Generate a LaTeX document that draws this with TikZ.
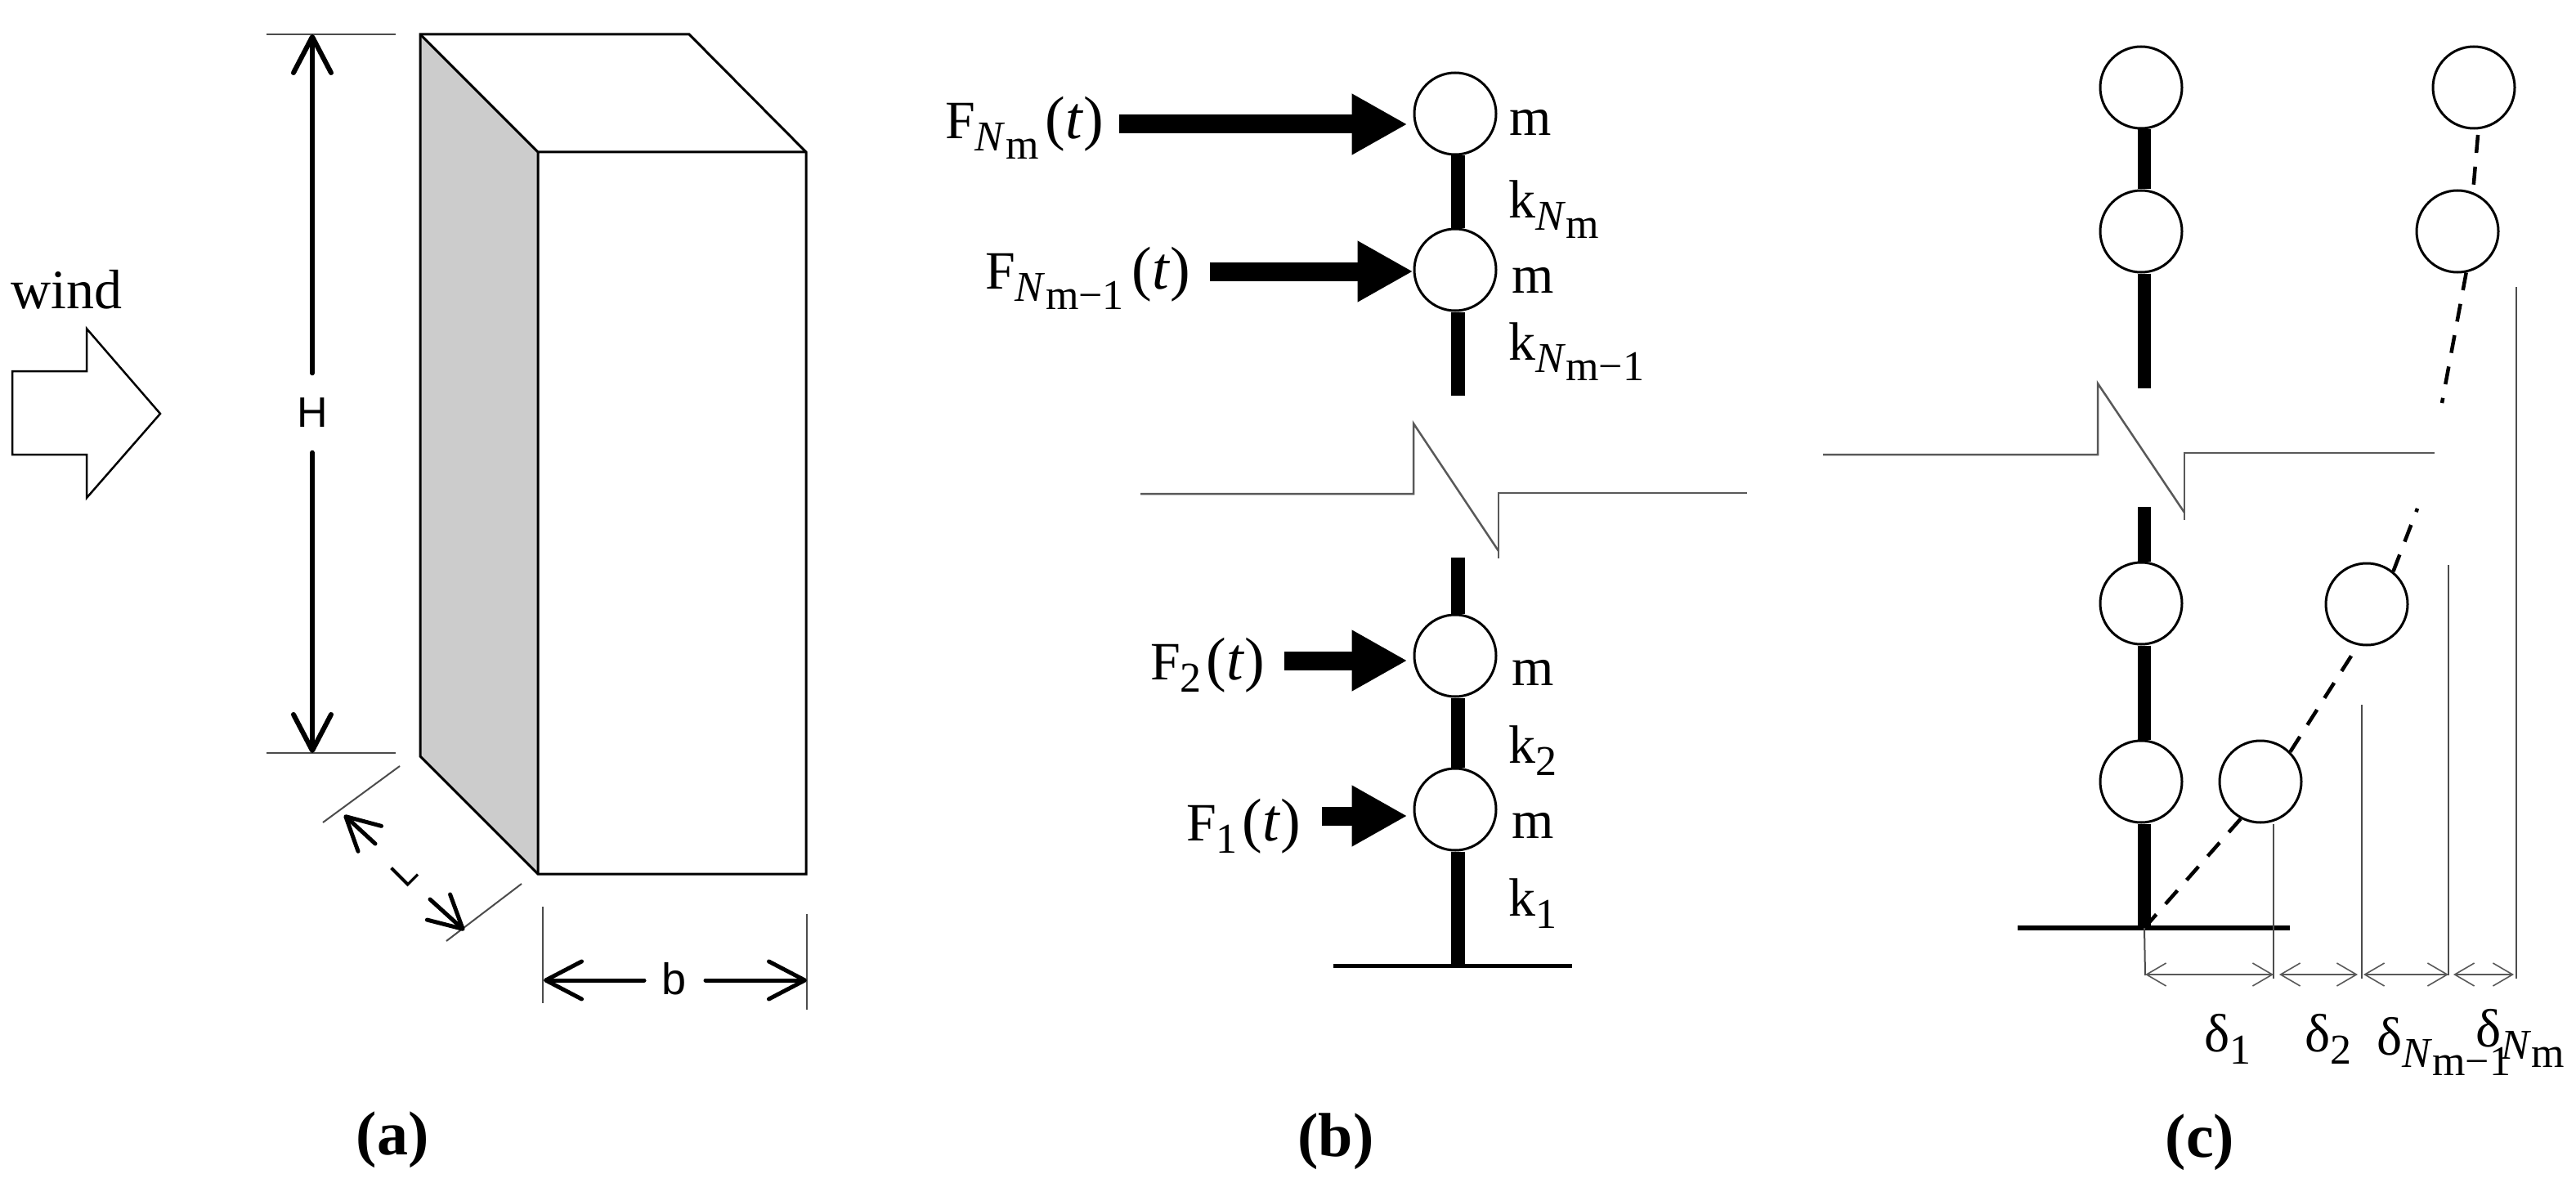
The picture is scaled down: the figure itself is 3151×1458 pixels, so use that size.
\documentclass[tikz,border=0pt]{standalone}
\usepackage{fontspec}
\setmainfont{Liberation Serif}
\setsansfont{Liberation Sans}
\usetikzlibrary{arrows.meta,calc}
\newcommand{\sz}[1]{\fontsize{#1}{#1}\selectfont}
\newcommand{\Nm}{\raisebox{-15pt}{\sz{52}\textit{N}\raisebox{-10pt}{m}}}
\newcommand{\Nmm}{\raisebox{-15pt}{\sz{52}\textit{N}\raisebox{-10pt}{m−1}}}
\newcommand{\dg}[1]{\raisebox{-15pt}{\sz{52}#1}}
\newcommand{\ofT}{{\sz{74}(\textit{t})}}
\tikzset{
  x=1pt,y=-1pt,
  mass/.style={circle,draw=black,fill=white,line width=3pt,minimum size=100pt,inner sep=0pt},
  stem/.style={line width=17pt,black},
  base/.style={line width=5pt,black},
  force/.style={line width=23pt,black,-{Triangle[length=68pt,width=70pt]}},
  lab/.style={anchor=base west,inner sep=0pt,font=\sz{66}},
  sans/.style={inner sep=0pt,font=\sffamily\sz{52}},
  bigdim/.style={line width=6pt,black,line cap=round,-{Straight Barb[length=44pt,width=46pt,round]}},
  thinline/.style={line width=2pt,black!70},
  zig/.style={line width=2.5pt,black!65,line join=miter},
  deflect/.style={line width=4.5pt,black,dash pattern=on 22pt off 17pt},
  gap/.style={line width=2pt,black!65,{Straight Barb[length=24pt,width=28pt,line width=1.6pt]}-{Straight Barb[length=24pt,width=28pt,line width=1.6pt]}},
  panel/.style={inner sep=0pt,font=\bfseries\sz{76}},
}
\begin{document}
\begin{tikzpicture}
\useasboundingbox (0,0) rectangle (3151,1458);
% --- panel (a)
\fill[black!20] (514,42) -- (658,186) -- (658,1069) -- (514,925) -- cycle;
\draw[line width=3pt,line join=miter] (514,42) -- (843,42) -- (986,186) -- (986,1069) -- (658,1069) -- (514,925) -- cycle;
\draw[line width=3pt] (514,42) -- (658,186) -- (986,186) (658,186) -- (658,1069);
\node[inner sep=0pt,font=\sz{68}] (wind) at (81,354) {wind};
\draw[line width=2.5pt,line join=miter] (15,454) -- (106,454) -- (106,402) -- (196,506) -- (106,609) -- (106,556) -- (15,556) -- cycle;
\coordinate (Ht) at (382,42); \coordinate (Hb) at (382,921);
\draw[thinline] (326,42) -- (484,42);
\draw[thinline] (326,921) -- (484,921);
\node[sans,minimum height=97pt] (H) at (382,505) {H};
\draw[bigdim] (H.north) -- (Ht);
\draw[bigdim] (H.south) -- (Hb);
\draw[thinline] (395,1006) -- (489,937);
\draw[thinline] (546,1151) -- (638,1081);
\coordinate (La) at (421,997); \coordinate (Lb) at (568,1138);
\node[sans,rotate=45,font=\sffamily\sz{44}] (L) at (494,1068) {L};
\coordinate (La2) at (459,1032); \coordinate (Lb2) at (526,1100);
\draw[bigdim,line width=5pt,-{Straight Barb[length=40pt,width=42pt,round]}] (La2) -- (La);
\draw[bigdim,line width=5pt,-{Straight Barb[length=40pt,width=42pt,round]}] (Lb2) -- (Lb);
\draw[thinline] (664,1109) -- (664,1227);
\draw[thinline] (987,1118) -- (987,1235);
\coordinate (bl) at (665,1199); \coordinate (br) at (987,1199);
\node[sans,font=\sffamily\sz{54}] (b) at (825,1197) {b};
\coordinate (bla) at (788,1199); \coordinate (bra) at (863,1199);
\draw[bigdim,line width=5pt,-{Straight Barb[length=44pt,width=46pt,round]}] (bla) -- (bl);
\draw[bigdim,line width=5pt,-{Straight Barb[length=44pt,width=46pt,round]}] (bra) -- (br);
\node[panel] (pa) at (480,1394) {(a)};
% --- panel (b)
\node[mass] (m1) at (1780,139) {};
\node[mass] (m2) at (1780,330) {};
\node[mass] (m3) at (1780,802) {};
\node[mass] (m4) at (1780,990) {};
\coordinate (btop) at (1783,484); \coordinate (blow) at (1783,682); \coordinate (bb) at (1783,1181);
\draw[stem] ([xshift=3pt]m1.south) -- ([xshift=3pt]m2.north);
\draw[stem] ([xshift=3pt]m2.south) -- (btop);
\draw[stem] (blow) -- ([xshift=3pt]m3.north);
\draw[stem] ([xshift=3pt]m3.south) -- ([xshift=3pt]m4.north);
\draw[stem] ([xshift=3pt]m4.south) -- (bb);
\draw[base] (1631,1181) -- (1923,1181);
\node[lab] (FN) at (1156,170) {F\Nm\kern8pt\ofT};
\node[lab] (FNm) at (1205,353) {F\Nmm\kern10pt\ofT};
\node[lab] (F2) at (1407,831) {F\dg{2}\kern6pt\ofT};
\node[lab] (F1) at (1451,1028) {F\dg{1}\kern6pt\ofT};
\coordinate (t1) at (1369,152); \coordinate (t2) at (1480,332);
\coordinate (t3) at (1571,808); \coordinate (t4) at (1617,998);
\draw[force,shorten >=7pt] (t1) -- (t1 -| m1.west);
\draw[force,shorten >=0pt] (t2) -- (t2 -| m2.west);
\draw[force,shorten >=7pt] (t3) -- (t3 -| m3.west);
\draw[force,shorten >=7pt] (t4) -- (t4 -| m4.west);
\node[lab] (lm1) at (1846,166) {m};
\node[lab] (lm2) at (1849,358) {m};
\node[lab] (lm3) at (1849,838) {m};
\node[lab] (lm4) at (1849,1025) {m};
\node[lab] (k4) at (1845,266) {k\Nm};
\node[lab] (k3) at (1845,440) {k\Nmm};
\node[lab] (k2) at (1845,933) {k\dg{2}};
\node[lab] (k1) at (1845,1120) {k\dg{1}};
\draw[zig] (1395,604) -- (1729,604) -- (1729,518) -- (1833,674);
\draw[zig] (1833,683) -- (1833,603) -- (2137,603);
\node[panel] (pb) at (1634,1396) {(b)};
% --- panel (c)
\node[mass] (c1) at (2619,107) {};
\node[mass] (c2) at (2619,283) {};
\node[mass] (c3) at (2619,738) {};
\node[mass] (c4) at (2619,956) {};
\node[mass] (r1) at (3026,107) {};
\node[mass] (r2) at (3006,283) {};
\node[mass] (r3) at (2895,739) {};
\node[mass] (r4) at (2765,956) {};
\coordinate (ctop) at (2623,475); \coordinate (clow) at (2623,620); \coordinate (cb) at (2623,1135);
\draw[stem,line width=16pt] ([xshift=4pt]c1.south) -- ([xshift=4pt]c2.north);
\draw[stem,line width=16pt] ([xshift=4pt]c2.south) -- (ctop);
\draw[stem,line width=16pt] (clow) -- ([xshift=4pt]c3.north);
\draw[stem,line width=16pt] ([xshift=4pt]c3.south) -- ([xshift=4pt]c4.north);
\draw[stem,line width=16pt] ([xshift=4pt]c4.south) -- (cb);
\draw[base,line width=5.5pt] (2468,1135) -- (2801,1135);
\coordinate (u1) at (3031,165); \coordinate (u2) at (2987,493); \coordinate (u3) at (2957,622);
\draw[deflect] (u1) -- (3025,235);
\draw[deflect] (r2.-78) -- (u2);
\draw[deflect] (r3.51) -- (u3);
\draw[deflect] (r4.45) -- (r3.-102);
\draw[deflect] (r4.-118) -- (cb);
\draw[zig] (2230,556) -- (2566,556) -- (2566,469) -- (2672,627);
\draw[zig] (2672,636) -- (2672,554) -- (2978,554);
\coordinate (e0) at (2624,1193); \coordinate (e1) at (2781,1197);
\coordinate (e2) at (2889,1197); \coordinate (e3) at (2995,1193); \coordinate (e4) at (3078,1197);
\coordinate (d0) at (2624,1192); \coordinate (d1a) at (2781,1192);
\coordinate (d1) at (2788,1192); \coordinate (d2a) at (2884,1192);
\coordinate (d2) at (2891,1192); \coordinate (d3a) at (2995,1192);
\coordinate (d3) at (3001,1192); \coordinate (d4a) at (3075,1192);
\draw[thinline] (cb) -- (e0);
\draw[thinline] (r4.south -| e1) -- (e1);
\draw[thinline] (2889,862) -- (e2);
\draw[thinline] (2995,691) -- (e3);
\draw[thinline] (3078,351) -- (e4);
\draw[gap] (d0) -- (d1a);
\draw[gap] (d1) -- (d2a);
\draw[gap] (d2) -- (d3a);
\draw[gap] (d3) -- (d4a);
\node[lab] (s1) at (2696,1286) {δ\dg{1}};
\node[lab] (s2) at (2819,1286) {δ\dg{2}};
\node[lab] (s3) at (2907,1290) {δ\Nmm};
\node[lab] (s4) at (3028,1280) {δ\Nm};
\node[panel] (pc) at (2691,1397) {(c)};
\end{tikzpicture}
\end{document}
